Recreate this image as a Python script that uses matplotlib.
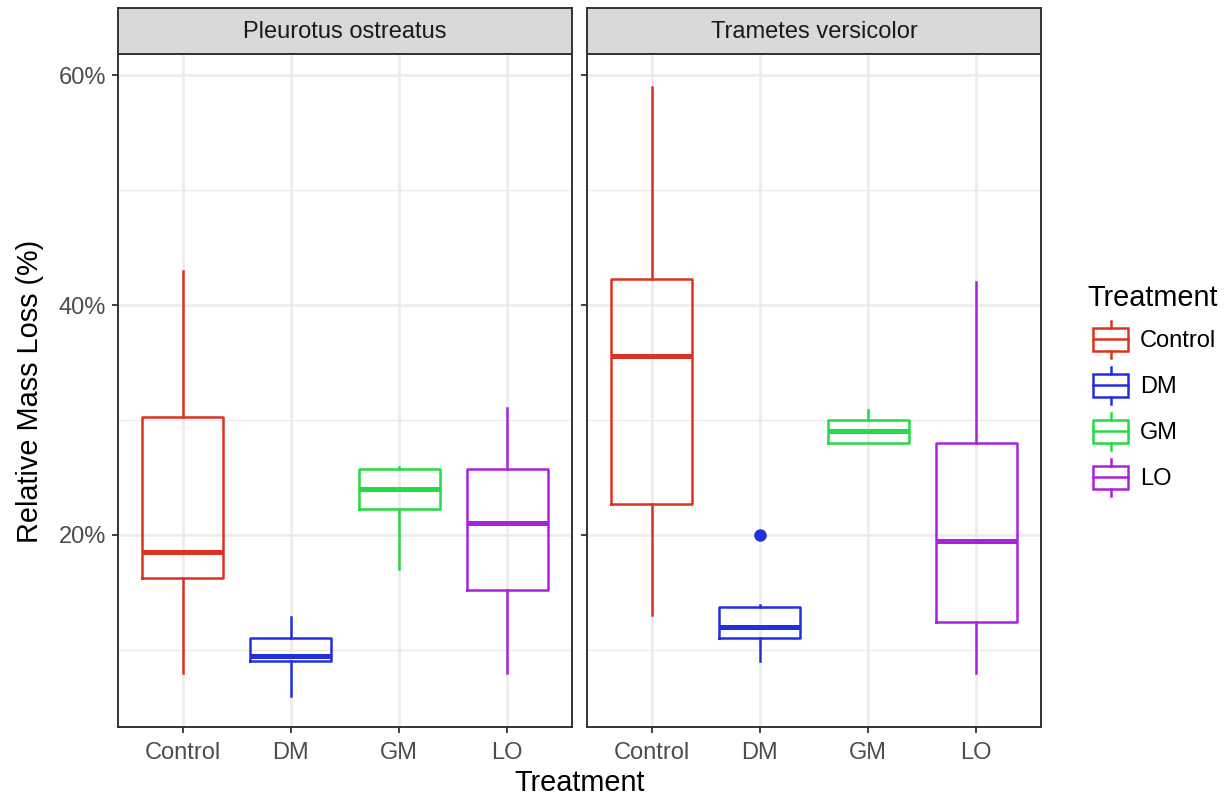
import matplotlib
matplotlib.use("Agg")
import matplotlib.pyplot as plt
from matplotlib.legend_handler import HandlerBase
from matplotlib.patches import Rectangle
from matplotlib.lines import Line2D
from matplotlib.ticker import FuncFormatter, MultipleLocator

plt.rcParams["font.family"] = ["Liberation Sans", "DejaVu Sans"]

species = ["Pleurotus ostreatus", "Trametes versicolor"]
treatments = ["Control", "DM", "GM", "LO"]
colors = ["#DC3220", "#2230DC", "#22DC44", "#AA22DC"]

# box stats in % (whisker low, q1, median, q3, whisker high)
whislo = [[8.0, 6.0, 17.0, 8.0], [13.0, 9.0, 28.0, 8.0]]
q1 = [[16.3, 9.0, 22.3, 15.2], [22.7, 11.0, 28.0, 12.4]]
med = [[18.5, 9.5, 24.0, 21.0], [35.6, 12.0, 29.0, 19.5]]
q3 = [[30.3, 11.0, 25.7, 25.7], [42.3, 13.7, 30.0, 28.0]]
whishi = [[43.0, 12.9, 25.9, 31.0], [59.0, 13.9, 30.9, 42.0]]
outliers = [[[], [], [], []], [[], [20.0], [], []]]

W, H = 1226, 798
fig = plt.figure(figsize=(W / 100, H / 100), dpi=100)

panel_x = [118, 587]
panel_w = 454
top, bottom = 54, 727
strip_top = 8

grey_txt = "#4D4D4D"
frame = "#333333"

for p, sp in enumerate(species):
    ax = fig.add_axes([panel_x[p] / W, (H - bottom) / H, panel_w / W, (bottom - top) / H])
    for i in range(4):
        c = colors[i]
        st = dict(whislo=whislo[p][i], q1=q1[p][i], med=med[p][i],
                  q3=q3[p][i], whishi=whishi[p][i], fliers=outliers[p][i])
        ax.bxp([st], positions=[i + 1], widths=0.75, showcaps=False,
               boxprops=dict(color=c, lw=1.8),
               whiskerprops=dict(color=c, lw=1.8),
               medianprops=dict(color=c, lw=3.6, solid_capstyle="butt"),
               flierprops=dict(marker="o", markerfacecolor=c, markeredgecolor=c, markersize=8),
               manage_ticks=False, zorder=3)
    ax.set_xlim(0.4, 4.6)
    ax.set_ylim(3.30, 61.83)
    ax.set_xticks(range(1, 5))
    ax.set_xticklabels(treatments)
    ax.yaxis.set_major_locator(MultipleLocator(20))
    ax.yaxis.set_minor_locator(MultipleLocator(10))
    ax.yaxis.set_major_formatter(FuncFormatter(lambda v, _: f"{v:.0f}%"))
    ax.grid(True, which="major", color="#EBEBEB", lw=1.8, zorder=0)
    ax.grid(True, which="minor", axis="y", color="#EBEBEB", lw=0.9, zorder=0)
    ax.set_axisbelow(True)
    ax.tick_params(which="major", length=4.5, width=1.3, color=frame, labelsize=17,
                   labelcolor=grey_txt, pad=4)
    ax.tick_params(axis="x", pad=6)
    ax.tick_params(which="minor", length=0)
    if p == 1:
        ax.tick_params(axis="y", labelleft=False)
    for s in ax.spines.values():
        s.set_color(frame)
        s.set_linewidth(1.4)

    strip = fig.add_axes([panel_x[p] / W, (H - top) / H, panel_w / W, (top - strip_top) / H])
    strip.set_facecolor("#D9D9D9")
    strip.set_xticks([])
    strip.set_yticks([])
    for s in strip.spines.values():
        s.set_color(frame)
        s.set_linewidth(1.4)
    strip.text(0.5, 0.47, sp, ha="center", va="center", fontsize=17, color="#1A1A1A",
               transform=strip.transAxes)

fig.text(580 / W, 1 - 783 / H, "Treatment", ha="center", va="center", fontsize=20.8)
fig.text(30 / W, 1 - 391 / H, "Relative Mass Loss (%)", ha="center", va="center",
         fontsize=20.8, rotation=90)


class BoxKey(HandlerBase):
    # little boxplot glyph for the legend keys, indented a bit from the title
    def create_artists(self, legend, orig, xd, yd, width, height, fontsize, trans):
        c = orig.get_color()
        indent = width * 0.15
        x0 = -xd + indent
        w = width - indent
        y_lo, y_hi = -yd, height - yd
        bh = height * 0.62
        yb = y_lo + (height - bh) / 2
        xm = x0 + w / 2
        box = Rectangle((x0, yb), w, bh, fill=False, ec=c, lw=1.8, transform=trans)
        mid = Line2D([x0, x0 + w], [yb + bh / 2] * 2, color=c, lw=1.8, transform=trans)
        lo = Line2D([xm, xm], [y_lo, yb], color=c, lw=1.8, transform=trans)
        hi = Line2D([xm, xm], [yb + bh, y_hi], color=c, lw=1.8, transform=trans)
        return [box, mid, lo, hi]


handles = [Line2D([], [], color=c) for c in colors]
leg = fig.legend(handles, treatments, loc="upper left", bbox_to_anchor=(1087 / W, 1 - 284 / H),
                 title="Treatment", fontsize=17, title_fontsize=20.8, frameon=False,
                 handler_map={Line2D: BoxKey()}, handlelength=1.74, handleheight=2.03,
                 labelspacing=0.38, handletextpad=0.5, borderpad=0.0, borderaxespad=0)
leg._legend_box.align = "left"

fig.savefig("out.png", dpi=100)
